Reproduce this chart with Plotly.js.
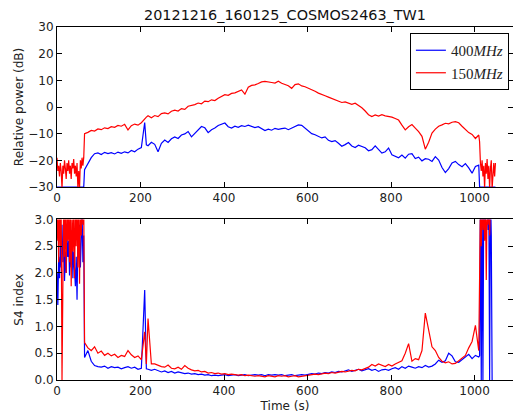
<!DOCTYPE html>
<html>
<head>
<meta charset="utf-8">
<script src="https://cdn.plot.ly/plotly-3.0.1.min.js"></script>
<style>html,body{margin:0;padding:0;background:#fff;overflow:hidden;}</style>
</head>
<body>
<div id="chart" style="width:513px;height:417px;"></div>
<script>
// ---- time samples (s) ----
var tStart = [0,2,4,6,8,10,12,14,16,18,20,22,24,26,28,30,32,34,36,38,40,42,44,46,48,50,52,54,56,58,60,62,64];
var tMain = [66,74,82,90,98,106,114,122,130,138,
  146,154,162,170,178,186,194,202,210,214,218,
  226,234,242,250,258,266,274,282,290,298,
  306,314,322,330,338,346,354,362,370,378,
  386,394,402,410,418,426,434,442,450,458,
  466,474,482,490,498,506,514,522,530,538,
  546,554,562,570,578,586,594,602,610,618,
  626,634,642,650,658,666,674,682,690,698,
  706,714,722,730,738,746,754,762,770,778,
  786,794,802,810,818,826,834,842,850,858,
  866,874,882,890,898,906,914,922,930,938,
  946,954,962,970,978,986,994,1002,1010];
var tEnd = [1012,1014,1016,1018,1020,1022,1024,1026,1028,1030,1032,1034,1036,1038,1040,1042,1044,1046,1048,1050];

// ---- relative power 400 MHz (dB) ----
var pow400Start = [-30,-30,-30,-30,-30,-30,-30,-30,-30,-30,-30,-30,-30,-30,-30,-30,-30,-30,-30,-30,-30,-30,-30,-30,-30,-30,-30,-30,-30,-30,-30,-30,-30];
var pow400Main = [-23.5,-21,-19,-17.5,-17.2,-17.8,-17.0,-17.5,-17.1,-17.6,
  -16.9,-17.4,-16.8,-17.2,-16.3,-16.8,-15.8,-15.2,-5.8,-14.2,-14.5,
  -13.2,-14.0,-16.8,-13.6,-12.4,-13.3,-11.9,-11.2,-11.8,-10.5,
  -10.1,-9.2,-11.2,-10.0,-8.8,-7.3,-7.8,-9.6,-8.5,-7.9,
  -6.9,-6.3,-6.0,-7.4,-7.9,-7.2,-7.6,-7.0,-7.3,-6.8,
  -7.2,-7.7,-7.4,-8.1,-8.8,-8.3,-8.7,-8.0,-8.4,-8.1,
  -7.9,-8.5,-8.0,-7.4,-6.7,-6.9,-7.9,-9.2,-10.0,-10.4,
  -10.9,-11.6,-11.2,-12.5,-13.0,-12.6,-13.6,-14.7,-14.1,-13.3,
  -14.6,-15.2,-14.3,-14.9,-15.3,-16.4,-16.0,-14.6,-15.9,-17.3,
  -16.8,-15.4,-17.9,-18.6,-19.0,-18.0,-19.2,-17.7,-17.5,-19.3,
  -18.8,-20.2,-19.4,-19.6,-20.4,-18.6,-19.9,-22.7,-24.6,-23.1,
  -21.0,-20.4,-21.6,-22.4,-21.2,-22.8,-24.8,-22.3,-21.8];
var pow400End = [-30,-30,-30,-30,-30,-30,-30,-30,-30,-30,-30,-30,-30,-30,-30,-30,-30,-30,-30,-30];

// ---- relative power 150 MHz (dB) ----
var pow150Start = [-19,-24,-22,-26,-21,-24,-30.5,-22,-25,-20,-23,-27,-21,-24,-20,-25,-22,-27,-21,-23,-19.5,-25,-22,-26,-21,-30.5,-24,-30.5,-20,-23,-19,-22,-19];
var pow150Main = [-10,-9.5,-8.8,-9.0,-8.2,-8.5,-7.8,-8.1,-7.4,-7.6,
  -6.9,-7.2,-6.5,-8.6,-7.0,-6.4,-6.8,-5.9,-4.2,-3.8,-3.3,
  -4.0,-3.2,-3.6,-2.5,-2.2,-2.6,-1.6,-1.2,-1.5,-0.6,
  -0.9,0.3,0.6,0.9,1.5,1.2,2.2,2.0,2.7,2.4,
  3.3,3.9,4.6,4.4,5.1,5.3,5.9,6.4,4.8,7.4,
  8.1,8.3,8.8,9.4,9.6,9.5,9.2,9.0,9.7,8.9,
  8.4,8.0,7.0,8.4,8.7,7.9,7.6,7.1,6.4,5.9,
  5.2,4.8,4.2,3.7,3.2,2.8,2.3,1.7,1.9,1.3,
  1.0,1.4,0.6,-0.3,-1.5,-2.9,-3.6,-3.0,-3.4,-2.9,
  -3.3,-3.5,-3.8,-4.3,-4.9,-6.8,-8.6,-7.4,-6.6,-7.9,
  -9.2,-11.0,-15.8,-13.2,-9.8,-8.3,-7.2,-6.7,-6.1,-6.3,
  -5.7,-5.5,-5.9,-7.2,-8.4,-9.6,-10.3,-11.8,-10.5];
var pow150End = [-13,-21,-24,-20,-26,-22,-30.5,-21,-25,-19.5,-27,-22,-30.5,-23,-20,-30.5,-24,-21,-26,-21];

// ---- S4 index 400 MHz ----
var s4_400Start = [2.0,1.4,2.3,1.9,2.5,2.1,2.9,2.2,2.6,1.85,2.4,2.0,2.7,2.3,2.6,1.95,2.5,2.1,2.8,1.9,2.4,2.0,1.75,2.3,1.5,2.6,2.4,2.9,2.1,2.6,3.2,2.2,2.7];
var s4_400Main = [0.42,0.55,0.35,0.27,0.25,0.24,0.26,0.22,0.25,0.23,
  0.24,0.21,0.23,0.25,0.22,0.24,0.2,0.22,1.68,0.21,0.2,
  0.18,0.2,0.17,0.15,0.17,0.14,0.16,0.13,0.15,0.14,
  0.12,0.13,0.11,0.12,0.1,0.11,0.09,0.1,0.08,0.09,
  0.08,0.09,0.1,0.08,0.09,0.1,0.08,0.09,0.1,0.08,
  0.09,0.1,0.09,0.1,0.08,0.1,0.09,0.1,0.09,0.1,
  0.08,0.09,0.1,0.08,0.09,0.1,0.09,0.11,0.12,0.11,
  0.13,0.12,0.14,0.13,0.15,0.14,0.16,0.15,0.17,0.19,
  0.16,0.18,0.2,0.17,0.19,0.21,0.18,0.2,0.16,0.19,
  0.2,0.18,0.21,0.23,0.2,0.25,0.22,0.26,0.24,0.22,
  0.25,0.23,0.27,0.24,0.26,0.3,0.37,0.33,0.36,0.5,
  0.45,0.34,0.33,0.38,0.42,0.48,0.4,0.46,0.43];
var s4_400End = [0.45,3.5,0,3.5,0,3.5,2.7,3.5,3.3,3.5,2.8,3.5,0,3.5,2.7,0,null,null,null,null];

// ---- S4 index 150 MHz ----
var s4_150Start = [2.6,3.2,2.2,3.3,2.5,3.1,0,2.8,3.4,2.3,3.2,2.0,3.3,2.6,3.1,2.2,3.4,1.75,3.0,2.4,3.3,1.9,3.1,2.5,3.4,2.1,3.2,1.8,3.3,2.7,3.4,2.9,3.3];
var s4_150Main = [0.7,0.6,0.55,0.62,0.5,0.54,0.46,0.5,0.45,0.48,
  0.42,0.46,0.44,0.55,0.47,0.42,0.45,0.38,0.9,0.3,1.15,
  0.3,0.3,0.27,0.25,0.24,0.28,0.22,0.21,0.24,0.2,
  0.27,0.22,0.19,0.17,0.18,0.15,0.16,0.13,0.14,0.12,
  0.13,0.11,0.12,0.1,0.11,0.1,0.09,0.1,0.08,0.09,
  0.08,0.07,0.08,0.07,0.06,0.08,0.07,0.06,0.08,0.07,
  0.08,0.06,0.07,0.08,0.06,0.07,0.08,0.09,0.1,0.11,
  0.1,0.12,0.13,0.12,0.14,0.13,0.15,0.16,0.15,0.17,
  0.18,0.17,0.2,0.19,0.22,0.24,0.29,0.26,0.3,0.27,
  0.25,0.29,0.26,0.3,0.33,0.36,0.5,0.68,0.35,0.4,
  0.38,0.55,1.25,0.95,0.62,0.55,0.42,0.35,0.32,0.34,
  0.3,0.31,0.36,0.4,0.46,0.6,0.72,1.02,0.55];
var s4_150End = [1.9,3.3,2.5,3.4,2.8,3.2,2.6,3.4,1.87,3.3,2.9,3.4,2.7,3.3,3.1,3.4,null,null,null,null];

var seriesNames = ['400<i>MHz</i>', '150<i>MHz</i>'];
var seriesColors = ['#0000ff', '#ff0000'];

var time = tStart.concat(tMain, tEnd);
var pow400 = pow400Start.concat(pow400Main, pow400End);
var pow150 = pow150Start.concat(pow150Main, pow150End);
var s4_400 = s4_400Start.concat(s4_400Main, s4_400End);
var s4_150 = s4_150Start.concat(s4_150Main, s4_150End);

var lw = 1.2;
var traces = [
  {x: time, y: pow400, xaxis: 'x', yaxis: 'y', mode: 'lines', name: seriesNames[0], line: {color: seriesColors[0], width: lw}},
  {x: time, y: pow150, xaxis: 'x', yaxis: 'y', mode: 'lines', name: seriesNames[1], line: {color: seriesColors[1], width: lw}},
  {x: time, y: s4_400, xaxis: 'x2', yaxis: 'y2', mode: 'lines', showlegend: false, line: {color: seriesColors[0], width: lw}},
  {x: time, y: s4_150, xaxis: 'x2', yaxis: 'y2', mode: 'lines', showlegend: false, line: {color: seriesColors[1], width: lw}}
];

function axisBase(extra) {
  var a = {
    ticks: 'inside', ticklen: 5, tickwidth: 1, tickcolor: '#000',
    showline: true, linecolor: '#000', linewidth: 1, mirror: 'allticks',
    showgrid: false, zeroline: false,
    tickfont: {family: 'DejaVu Sans', size: 12, color: '#222'}
  };
  for (var k in extra) a[k] = extra[k];
  return a;
}

var layout = {
  width: 513, height: 417,
  margin: {l: 57, r: 0, t: 27, b: 37},
  paper_bgcolor: '#fff', plot_bgcolor: '#fff',
  font: {family: 'DejaVu Sans', size: 12, color: '#222'},
  title: {text: '20121216_160125_COSMOS2463_TW1', font: {family: 'DejaVu Sans', size: 14.4, color: '#111'},
          x: 0.5, xref: 'paper', xanchor: 'center', y: 0.964, yref: 'container', yanchor: 'middle'},
  showlegend: true,
  legend: {x: 0.991, xanchor: 'right', y: 0.983, yanchor: 'top', bgcolor: '#fff', bordercolor: '#000', borderwidth: 1,
           font: {family: 'Liberation Serif', size: 15, color: '#222'}},
  xaxis: axisBase({domain: [0, 1], anchor: 'y', range: [0, 1092], tick0: 0, dtick: 200}),
  yaxis: axisBase({domain: [0.5467, 1], anchor: 'x', range: [-30, 30], tick0: -30, dtick: 10,
                   title: {text: 'Relative power (dB)', font: {family: 'DejaVu Sans', size: 12, color: '#222'}}}),
  xaxis2: axisBase({domain: [0, 1], anchor: 'y2', range: [0, 1092], tick0: 0, dtick: 200,
                    title: {text: 'Time (s)', font: {family: 'DejaVu Sans', size: 12, color: '#222'}, standoff: 4}}),
  yaxis2: axisBase({domain: [0, 0.455], anchor: 'x2', range: [0, 3], tick0: 0, dtick: 0.5, tickformat: '.1f',
                    title: {text: 'S4 index', font: {family: 'DejaVu Sans', size: 12, color: '#222'}}}),
  hovermode: false
};

Plotly.newPlot('chart', traces, layout, {staticPlot: true, displayModeBar: false});
</script>
</body>
</html>
